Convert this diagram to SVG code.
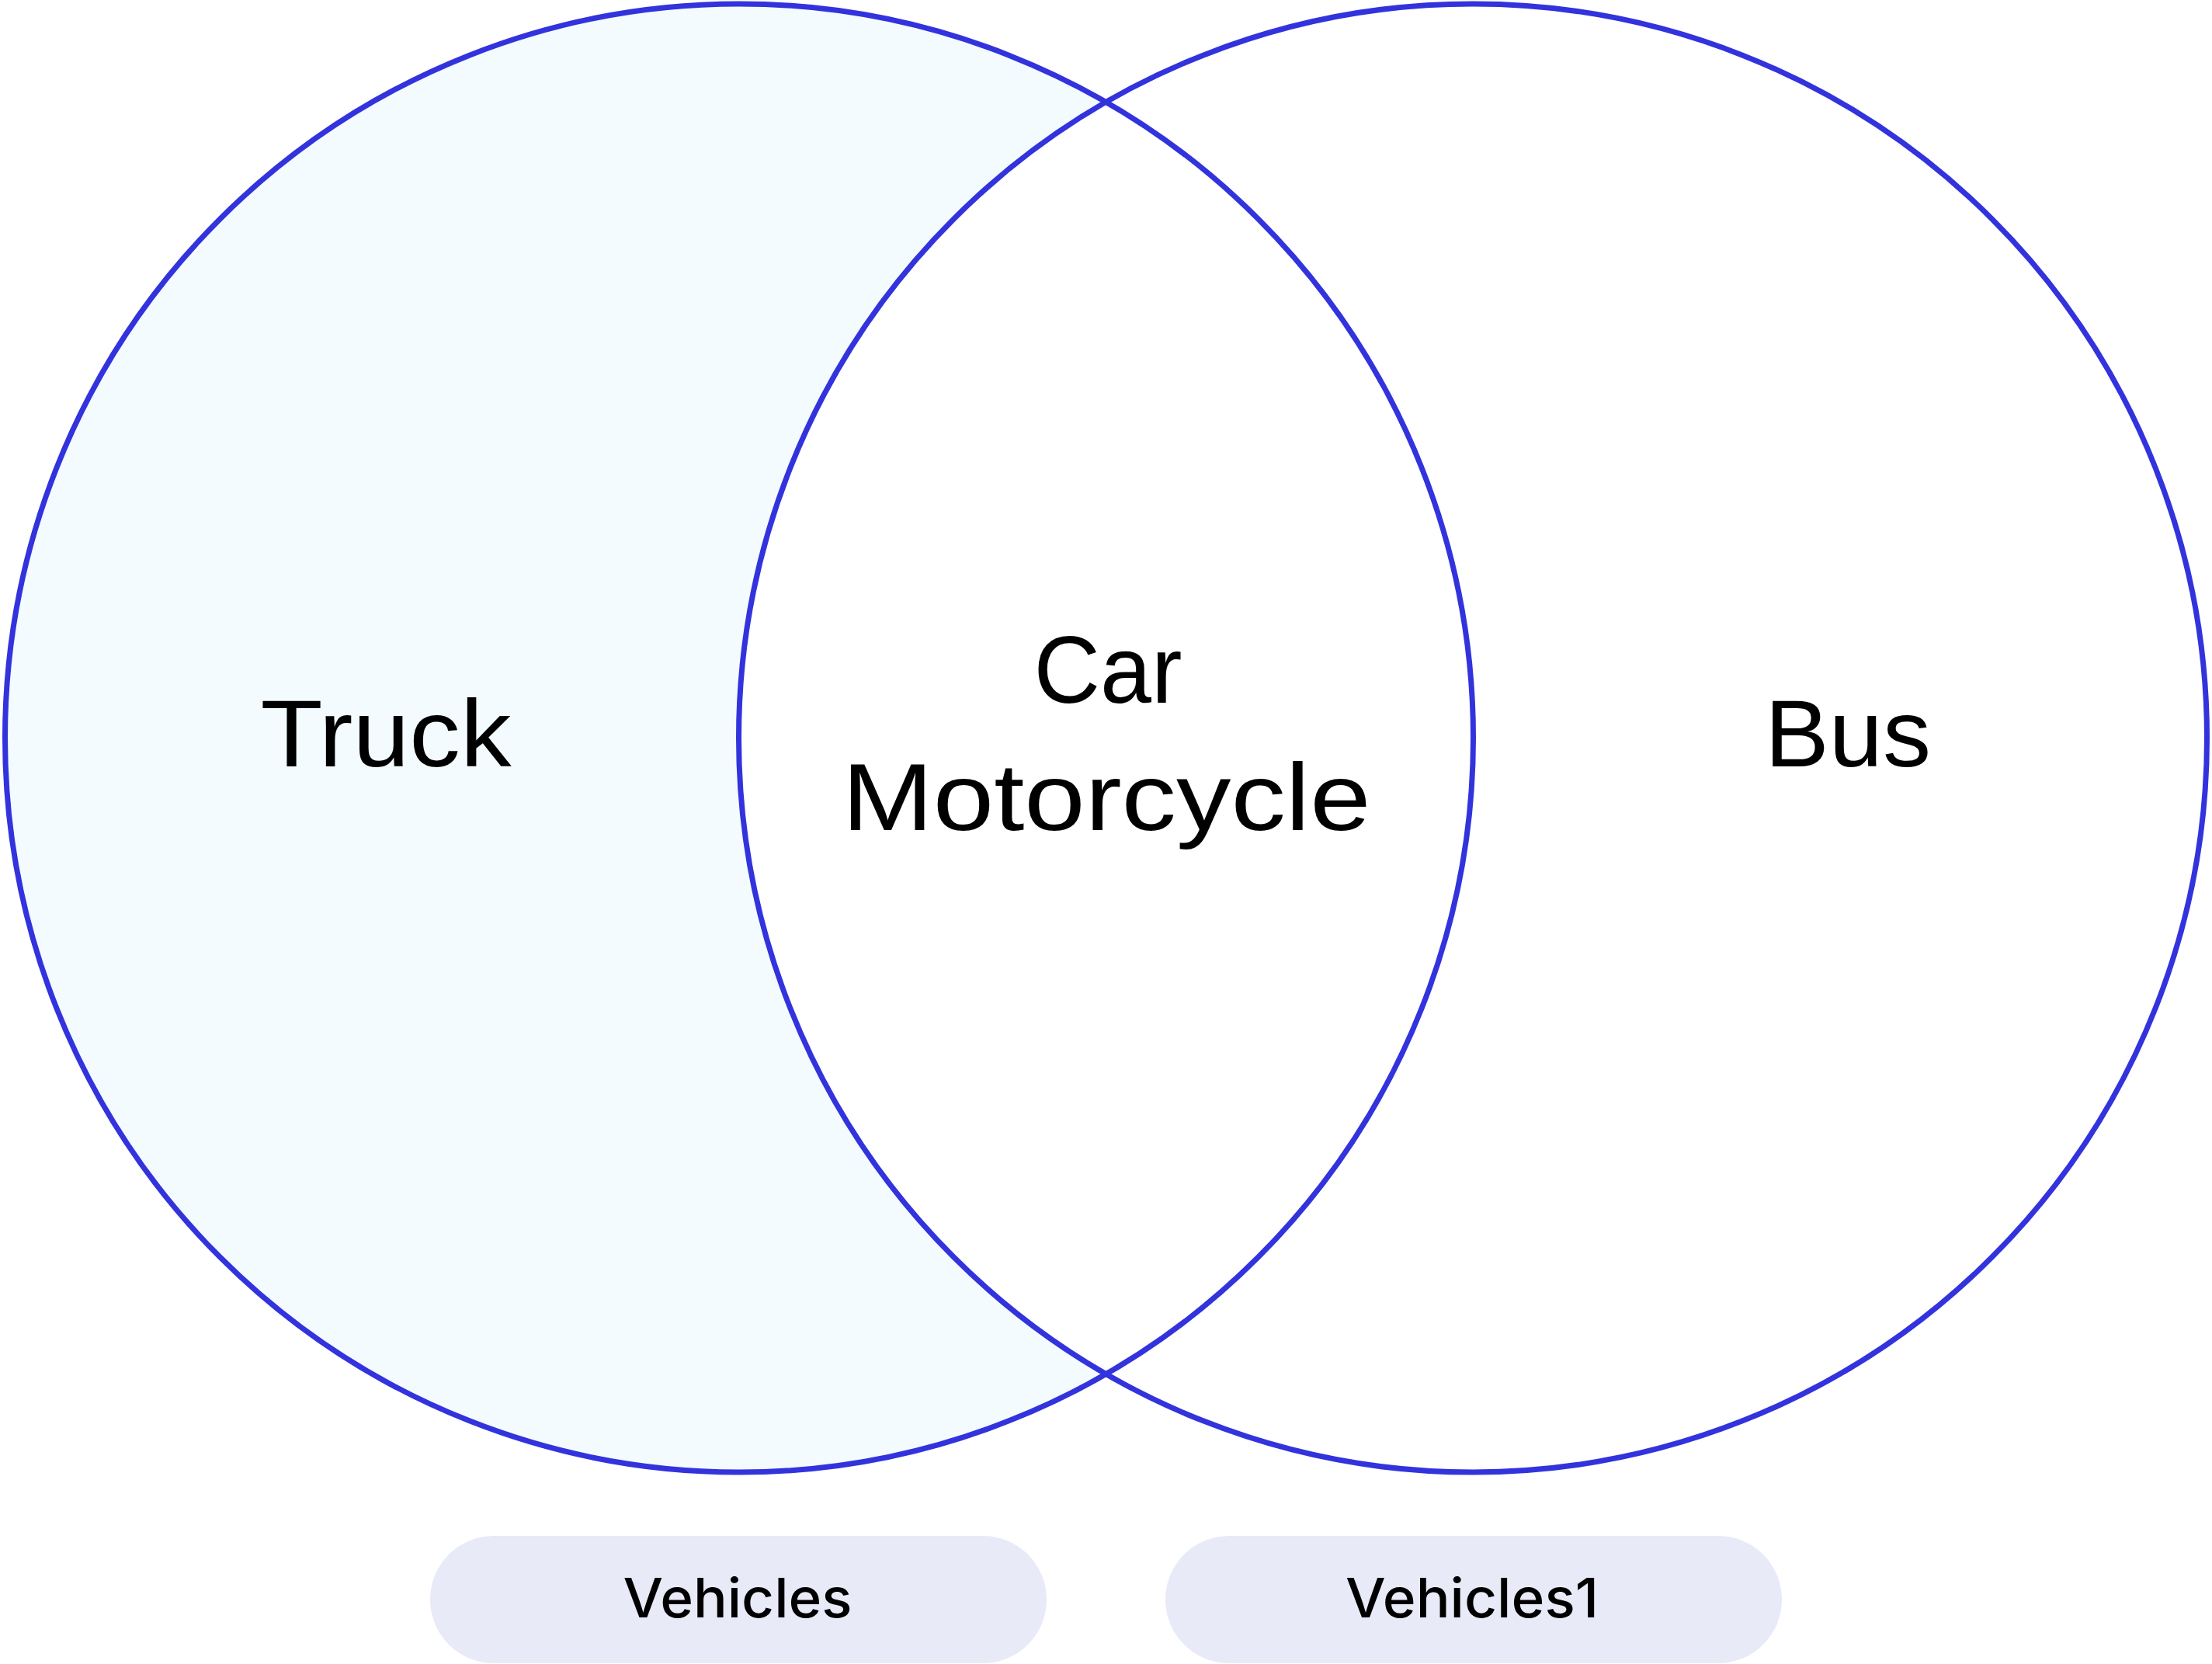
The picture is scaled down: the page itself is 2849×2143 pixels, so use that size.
<svg xmlns="http://www.w3.org/2000/svg" width="2849" height="2143" viewBox="0 0 2849 2143">
<style>
.ring{fill:none;stroke:#3333DD;stroke-width:7}
.lbl{font-family:"Liberation Sans",Arial,sans-serif;font-size:123px;fill:#000;text-anchor:middle}
.pill{fill:#E8EAF7}
.ptxt{font-family:Inter,"Liberation Sans",Arial,sans-serif;font-size:70px;font-weight:500;fill:#000;text-anchor:middle}
</style>
<rect width="2849" height="2143" fill="#FFFFFF"/>
<g id="set-vehicles">
<circle cx="952" cy="950.5" r="945.5" fill="#F3FBFE"/>
</g>
<g id="set-vehicles1">
<circle cx="1897" cy="950.5" r="945.5" fill="#FFFFFF"/>
</g>
<g id="outlines">
<circle class="ring" cx="952" cy="950.5" r="945.5"/>
<circle class="ring" cx="1897" cy="950.5" r="945.5"/>
</g>
<g id="label-truck">
<text class="lbl" x="497" y="987" textLength="323" lengthAdjust="spacingAndGlyphs">Truck</text>
</g>
<g id="label-intersection">
<text class="lbl" x="1427" y="905" textLength="191" lengthAdjust="spacingAndGlyphs">Car</text>
<text class="lbl" x="1425" y="1069" textLength="681" lengthAdjust="spacingAndGlyphs">Motorcycle</text>
</g>
<g id="label-bus">
<text class="lbl" x="2380" y="987" textLength="214" lengthAdjust="spacingAndGlyphs">Bus</text>
</g>
<g id="legend-vehicles">
<rect class="pill" x="554" y="1978" width="794" height="164" rx="82"/>
<text class="ptxt" x="950" y="2083" textLength="295" lengthAdjust="spacingAndGlyphs">Vehicles</text>
</g>
<g id="legend-vehicles1">
<rect class="pill" x="1501" y="1978" width="794" height="164" rx="82"/>
<text class="ptxt" x="1896" y="2083" textLength="326" lengthAdjust="spacingAndGlyphs">Vehicles1</text>
</g>
<g id="connectors"></g>
</svg>
